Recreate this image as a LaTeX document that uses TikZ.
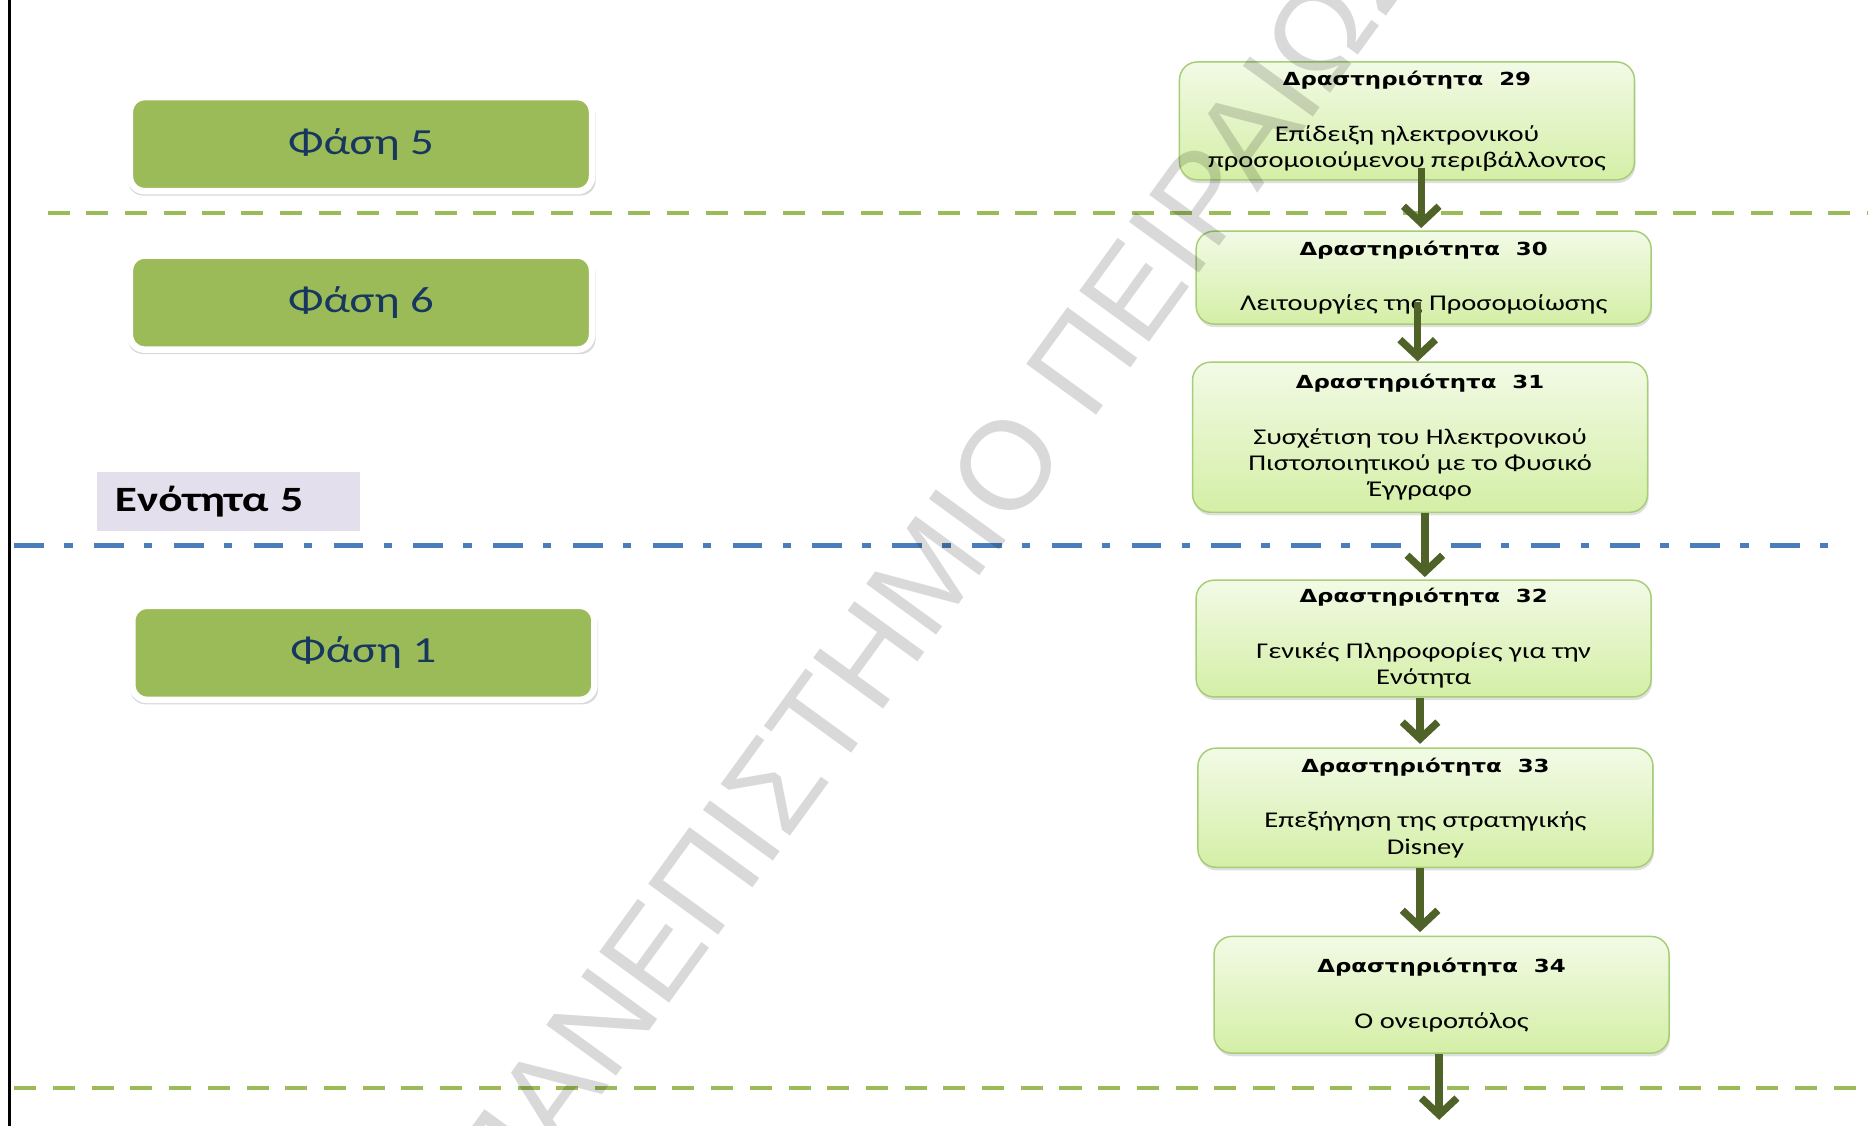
\documentclass[tikz,border=0pt]{standalone}
\usepackage{fontspec}
\setmainfont{Carlito}[FakeStretch=1.27]
\newfontfamily\titlefont{DejaVu Sans}[FakeStretch=1.27]
\newfontfamily\markfont{Liberation Sans}
\usetikzlibrary{arrows.meta,positioning,shadows}

\definecolor{phasegreen}{HTML}{9BBB59}
\definecolor{arrowgreen}{HTML}{4F6228}
\definecolor{phasetext}{HTML}{17375E}
\definecolor{boxborder}{HTML}{A6CE76}
\definecolor{boxtop}{HTML}{F2FAE6}
\definecolor{boxbottom}{HTML}{D4EFA6}
\definecolor{sectionblue}{HTML}{4A7EBB}
\definecolor{lavender}{HTML}{E4DFEC}

\tikzset{
  phase/.style={draw=white, line width=0.11cm, fill=phasegreen, rounded corners=0.25cm,
    minimum width=7.76cm, minimum height=1.58cm, text=phasetext,
    font=\fontsize{17.6}{20}\selectfont,
    drop shadow={shadow scale=1.012, shadow xshift=0.4pt, shadow yshift=-1.8pt, opacity=0.3}},
  activity/.style={draw=boxborder, line width=0.7pt, top color=boxtop, bottom color=boxbottom,
    rounded corners=0.3cm, minimum width=7.64cm, align=center,
    font=\fontsize{10.75}{12.5}\selectfont,
    drop shadow={shadow xshift=0.5pt, shadow yshift=-1.5pt, opacity=0.25}},
  flow/.style={-{Straight Barb[length=8pt,width=17pt]}, arrowgreen, line width=3.5pt},
  phaseline/.style={phasegreen, line width=2pt, dash pattern=on 0.37cm off 0.28cm},
  sectionline/.style={sectionblue, line width=2.4pt, dash pattern=on 0.5cm off 0.34cm on 0.14cm off 0.36cm}
}
\newcommand{\acttitle}[1]{{\titlefont\bfseries\fontsize{8.6}{12.5}\selectfont Δραστηριότητα\ \ #1}\\[14.2pt]}

\begin{document}
\begin{tikzpicture}[x=0.02cm, y=-0.02cm]
  \useasboundingbox (0,0) rectangle (1568,945);
  \clip (0,0) rectangle (1568,945);

  % page edge and separators
  \draw[line width=1.2pt] (8,0) -- (8,945);
  \draw[phaseline] (40,179) -- (1568,179);
  \draw[sectionline] (12,458) -- (1545,458);
  \draw[phaseline] (12,913) -- (1568,913);

  % phases
  \node[phase] (f5) at (303,121) {Φάση 5};
  \node[phase] (f6) at (303,254) {Φάση 6};
  \node[phase] (f1) at (305,548) {Φάση 1};
  \node[fill=lavender, minimum width=4.42cm, minimum height=1cm, text width=3.8cm, align=left,
    font=\bfseries\fontsize{17}{20}\selectfont] (en5) at (191.5,421) {Ενότητα 5};

  % activities
  \node[activity, minimum height=1.98cm] (a29) at (1181,101.5)
    {\acttitle{29}Επίδειξη ηλεκτρονικού\\ προσομοιούμενου περιβάλλοντος};
  \node[activity, minimum height=1.56cm] (a30) at (1195,233)
    {\acttitle{30}Λειτουργίες της Προσομοίωσης};
  \node[activity, minimum height=2.52cm] (a31) at (1192,367)
    {\acttitle{31}Συσχέτιση του Ηλεκτρονικού\\ Πιστοποιητικού με το Φυσικό\\ Έγγραφο};
  \node[activity, minimum height=1.96cm] (a32) at (1195,536)
    {\acttitle{32}Γενικές Πληροφορίες για την\\ Ενότητα};
  \node[activity, minimum height=2cm] (a33) at (1196.5,678)
    {\acttitle{33}Επεξήγηση της στρατηγικής\\ Disney};
  \node[activity, minimum height=1.96cm] (a34) at (1210,835)
    {\acttitle{34}Ο ονειροπόλος};
  \coordinate (out) at (1208,940);

  % flow between activities
  \draw[flow] ([shift={(12,-11)}]a29.south) -- ([shift={(-2,-2)}]a30.north);
  \draw[flow] ([shift={(-5,-19)}]a30.south) -- ([shift={(-2,0)}]a31.north);
  \draw[flow] ([shift={(4,0)}]a31.south) -- ([shift={(1,-2)}]a32.north);
  \draw[flow] ([shift={(-3,0)}]a32.south) -- ([shift={(-4.5,-3)}]a33.north);
  \draw[flow] ([shift={(-4.5,0)}]a33.south) -- ([shift={(-18,-3)}]a34.north);
  \draw[flow] ([shift={(-2,0)}]a34.south) -- (out);

  % watermark
  \node[font=\markfont\fontsize{60}{60}\selectfont, text=black, text opacity=0.15, rotate=54]
    (mark) at (783,476) {ΠΑΝΕΠΙΣΤΗΜΙΟ ΠΕΙΡΑΙΩΣ};
\end{tikzpicture}
\end{document}
